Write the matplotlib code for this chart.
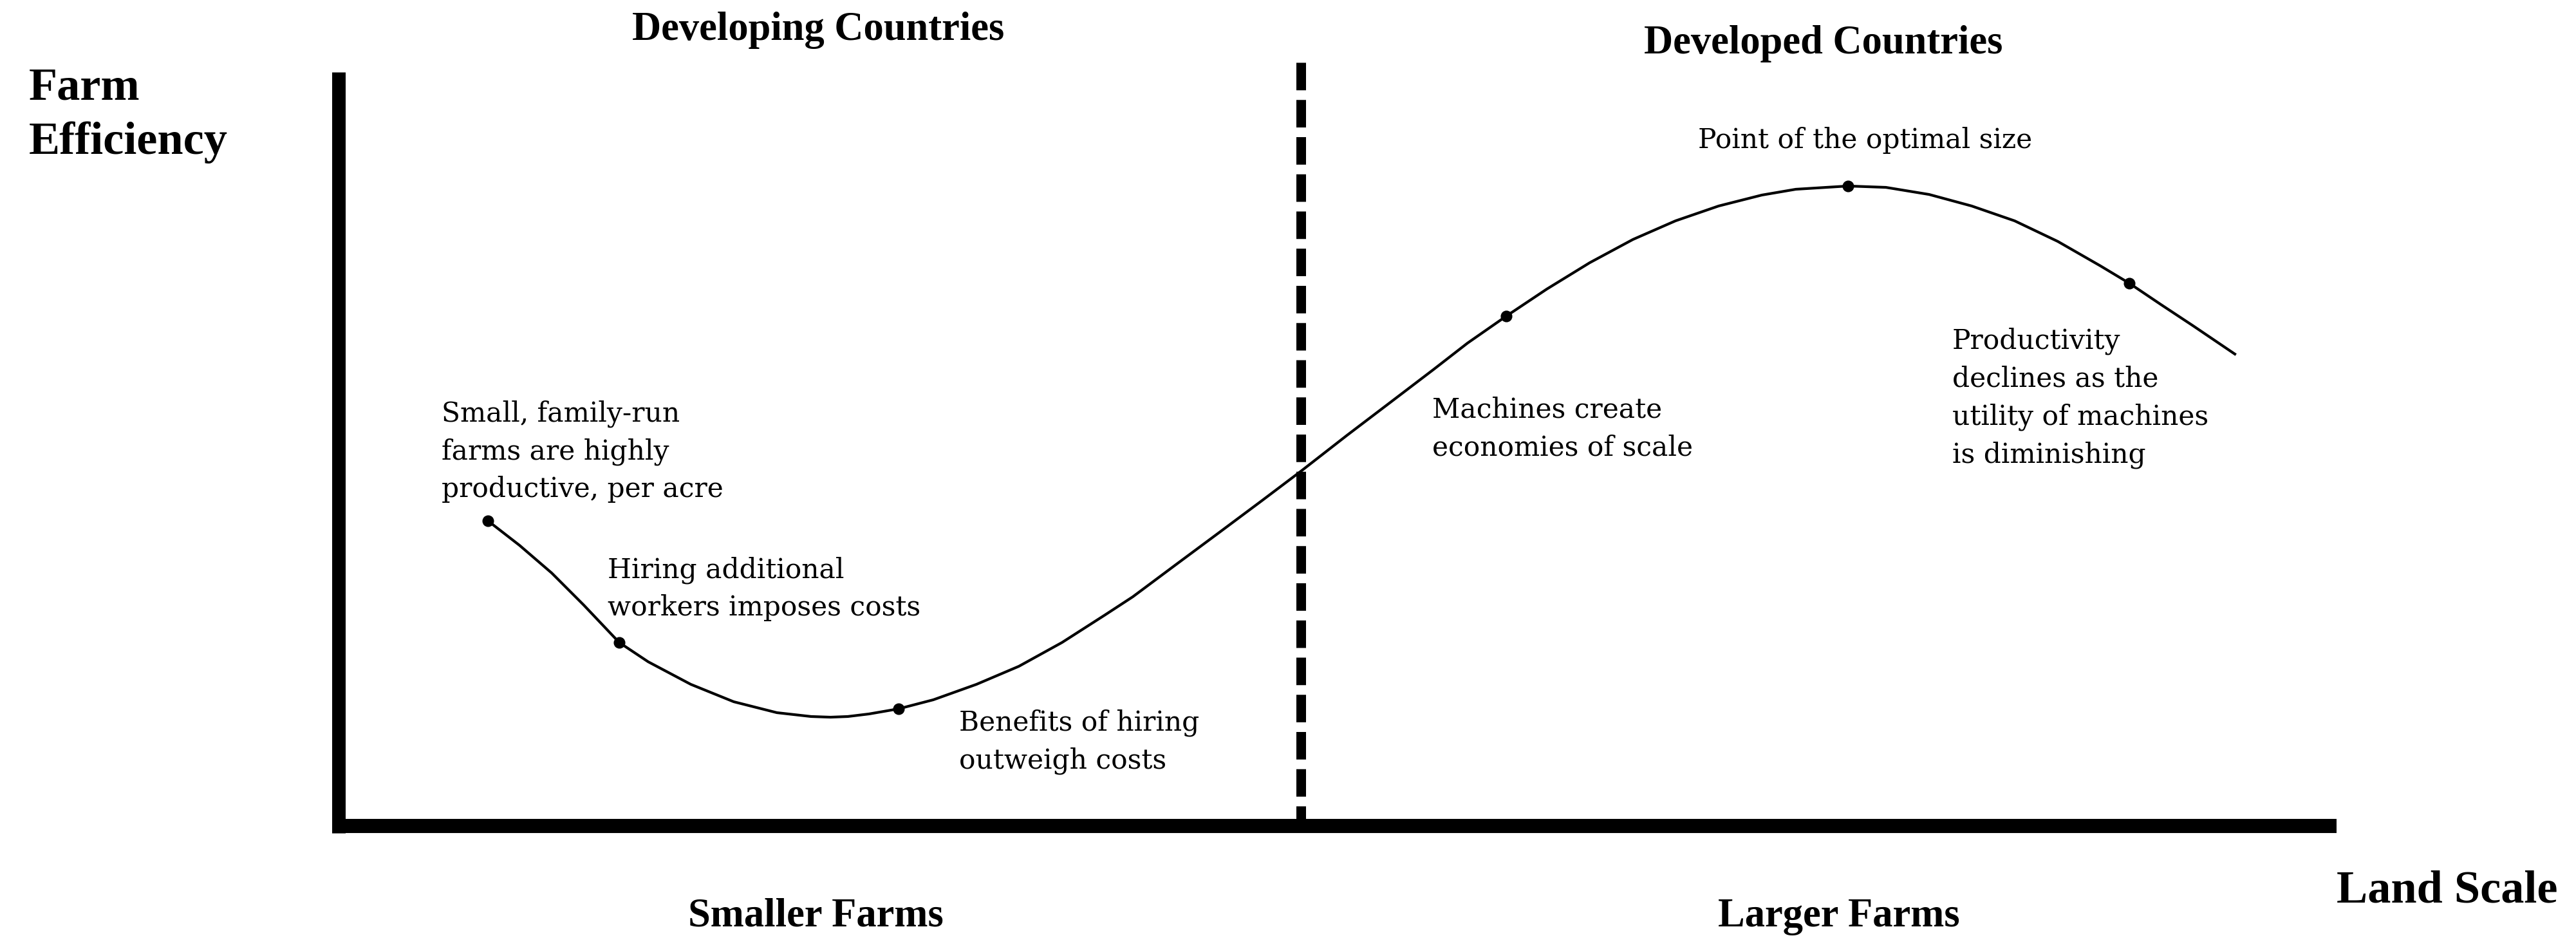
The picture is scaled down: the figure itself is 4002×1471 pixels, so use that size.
import matplotlib.pyplot as plt

# efficiency curve (land scale and efficiency on 0-100)
land = [7.49, 9.07, 10.68, 12.29, 14.06, 15.51, 17.64, 19.79, 21.95, 23.66,
        24.63, 25.50, 26.56, 28.04, 29.78, 31.94, 34.06, 36.22, 38.38, 39.76,
        41.92, 44.05, 46.21, 48.17, 50.49, 52.65, 54.81, 56.51, 58.45, 60.48,
        62.63, 64.79, 66.92, 69.08, 71.24, 72.94, 75.55, 77.45, 79.61, 81.74,
        83.89, 86.05, 88.18, 89.63, 91.21, 92.82, 94.91]
efficiency = [40.48, 37.23, 33.56, 29.29, 24.34, 21.78, 18.79, 16.48, 15.03, 14.52,
              14.43, 14.52, 14.86, 15.54, 16.74, 18.79, 21.18, 24.34, 28.01, 30.40,
              34.67, 38.86, 43.13, 47.05, 51.84, 56.19, 60.55, 64.05, 67.63, 71.22,
              74.72, 77.80, 80.27, 82.24, 83.69, 84.46, 84.89, 84.71, 83.77, 82.24,
              80.27, 77.54, 74.30, 71.99, 69.17, 66.35, 62.60]

# marked stages on the curve
stage_x = [7.49, 14.06, 28.04, 58.45, 75.55, 89.63]
stage_y = [40.48, 24.34, 15.54, 67.63, 84.89, 71.99]

divider_x = 48.17   # developing / developed split

notes = ["Small, family-run\nfarms are highly\nproductive, per acre",
         "Hiring additional\nworkers imposes costs",
         "Benefits of hiring\noutweigh costs",
         "Machines create\neconomies of scale",
         "Point of the optimal size",
         "Productivity\ndeclines as the\nutility of machines\nis diminishing"]
regions = ["Developing Countries", "Developed Countries"]
farm_sizes = ["Smaller Farms", "Larger Farms"]
x_label = "Land Scale"
y_label = "Farm\nEfficiency"

# layout
W, H = 4002, 1471
note_pos = [(5.17, 56.53, 'left', 'top'), (13.48, 35.78, 'left', 'top'),
            (31.07, 15.46, 'left', 'top'), (54.74, 56.96, 'left', 'top'),
            (76.42, 89.92, 'center', 'baseline'), (80.77, 66.10, 'left', 'top')]
region_pos = [(24.01, 104.27), (74.33, 102.48)]
size_pos = [(23.89, -13.24), (75.10, -13.32)]

plt.rcParams['font.family'] = 'DejaVu Serif'
head = dict(family='Liberation Serif', weight='bold')

fig = plt.figure(figsize=(W / 100, H / 100), dpi=100)
ax = fig.add_axes([525.5 / W, 188 / H, 3104.5 / W, 1171 / H])
ax.set_xlim(0, 100)
ax.set_ylim(0, 100)
ax.set_xticks([])
ax.set_yticks([])
ax.spines['top'].set_visible(False)
ax.spines['right'].set_visible(False)
ax.spines['left'].set_linewidth(15.1)
ax.spines['bottom'].set_linewidth(15.8)
for s in ['left', 'bottom']:
    ax.spines[s].set_capstyle('butt')
ax.spines['left'].set_bounds(-0.94, 100)

ax.plot([divider_x, divider_x], [101.3, 0], color='black', lw=10.8,
        dashes=(2.85, 1.0), dash_capstyle='butt', clip_on=False)
ax.plot(land, efficiency, color='black', lw=3.0, solid_joinstyle='round')
ax.plot(stage_x, stage_y, 'o', color='black', ms=12)

for txt, (x, y, ha, va) in zip(notes, note_pos):
    ax.text(x, y, txt, fontsize=30.5, ha=ha, va=va, linespacing=1.5)

for txt, (x, y) in zip(regions, region_pos):
    ax.text(x, y, txt, fontsize=45, ha='center', va='baseline', **head)
for txt, (x, y) in zip(farm_sizes, size_pos):
    ax.text(x, y, txt, fontsize=45, ha='center', va='baseline', **head)

ax.text(100.0, -10.08, x_label, fontsize=52, ha='left', va='baseline', **head)
ax.text(-15.48, 100.68, y_label, fontsize=52, ha='left', va='top',
        linespacing=1.39, **head)

fig.savefig('out.png', dpi=100)
